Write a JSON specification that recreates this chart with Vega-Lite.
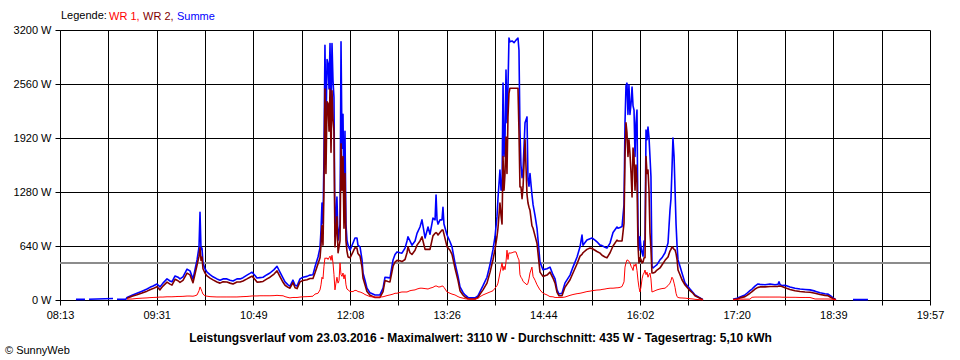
{
  "$schema": "https://vega.github.io/schema/vega-lite/v6.json",
  "width": 870,
  "height": 270,
  "autosize": {"type": "none"},
  "padding": {"left": 60, "right": 30, "top": 30, "bottom": 60},
  "background": "white",
  "title": {"text": "© SunnyWeb", "orient": "bottom", "anchor": "start", "frame": "group", "dx": -55, "offset": 2, "fontSize": 11, "fontWeight": "normal", "font": "Liberation Sans", "color": "black"},
  "config": {
    "font": "Liberation Sans",
    "view": {"stroke": null},
    "axis": {"labelFont": "Liberation Sans", "labelFontSize": 11, "labelColor": "black", "gridColor": "black", "gridOpacity": 1, "gridWidth": 1, "domainColor": "black", "domainWidth": 1, "tickColor": "black", "tickWidth": 1, "tickSize": 5, "labelOverlap": false, "labelFlush": false}
  },
  "data": {"values": [
    {"t":505.9,"summe":8,"wr2":null,"wr1":null},
    {"t":513.2,"summe":8,"wr2":null,"wr1":null},
    {"t":514.0,"summe":null,"wr2":null,"wr1":null},
    {"t":516.5,"summe":8,"wr2":null,"wr1":null},
    {"t":535.9,"summe":18,"wr2":null,"wr1":null},
    {"t":536.7,"summe":null,"wr2":null,"wr1":null},
    {"t":539.1,"summe":8,"wr2":null,"wr1":null},
    {"t":546.4,"summe":10,"wr2":null,"wr1":null},
    {"t":547.2,"summe":30,"wr2":20,"wr1":10},
    {"t":551.3,"summe":55,"wr2":45,"wr1":12},
    {"t":555.3,"summe":80,"wr2":62,"wr1":18},
    {"t":559.4,"summe":105,"wr2":82,"wr1":22},
    {"t":563.4,"summe":130,"wr2":105,"wr1":25},
    {"t":565.8,"summe":150,"wr2":122,"wr1":28},
    {"t":568.3,"summe":165,"wr2":135,"wr1":30},
    {"t":571.5,"summe":190,"wr2":158,"wr1":32},
    {"t":573.9,"summe":155,"wr2":120,"wr1":35},
    {"t":576.3,"summe":200,"wr2":165,"wr1":35},
    {"t":579.6,"summe":250,"wr2":212,"wr1":38},
    {"t":582.0,"summe":225,"wr2":188,"wr1":38},
    {"t":583.6,"summe":215,"wr2":177,"wr1":38},
    {"t":586.1,"summe":285,"wr2":245,"wr1":40},
    {"t":588.5,"summe":270,"wr2":228,"wr1":42},
    {"t":590.1,"summe":250,"wr2":208,"wr1":42},
    {"t":592.5,"summe":275,"wr2":232,"wr1":43},
    {"t":595.8,"summe":365,"wr2":318,"wr1":47},
    {"t":598.2,"summe":345,"wr2":298,"wr1":47},
    {"t":600.6,"summe":250,"wr2":205,"wr1":45},
    {"t":602.2,"summe":355,"wr2":305,"wr1":50},
    {"t":603.9,"summe":475,"wr2":415,"wr1":60},
    {"t":605.5,"summe":630,"wr2":520,"wr1":110},
    {"t":606.3,"summe":1040,"wr2":620,"wr1":155},
    {"t":607.1,"summe":600,"wr2":470,"wr1":130},
    {"t":607.9,"summe":615,"wr2":510,"wr1":100},
    {"t":608.7,"summe":440,"wr2":370,"wr1":70},
    {"t":610.3,"summe":370,"wr2":320,"wr1":50},
    {"t":612.0,"summe":330,"wr2":285,"wr1":45},
    {"t":614.4,"summe":300,"wr2":260,"wr1":40},
    {"t":616.8,"summe":275,"wr2":238,"wr1":38},
    {"t":620.0,"summe":250,"wr2":213,"wr1":36},
    {"t":622.5,"summe":235,"wr2":200,"wr1":36},
    {"t":624.9,"summe":250,"wr2":215,"wr1":36},
    {"t":628.1,"summe":250,"wr2":213,"wr1":36},
    {"t":630.6,"summe":235,"wr2":200,"wr1":36},
    {"t":633.0,"summe":225,"wr2":190,"wr1":36},
    {"t":636.2,"summe":250,"wr2":214,"wr1":36},
    {"t":638.7,"summe":250,"wr2":213,"wr1":38},
    {"t":641.1,"summe":265,"wr2":225,"wr1":40},
    {"t":644.3,"summe":295,"wr2":250,"wr1":42},
    {"t":646.7,"summe":315,"wr2":270,"wr1":45},
    {"t":648.4,"summe":330,"wr2":283,"wr1":48},
    {"t":650.8,"summe":290,"wr2":242,"wr1":48},
    {"t":652.4,"summe":260,"wr2":212,"wr1":48},
    {"t":654.8,"summe":265,"wr2":215,"wr1":50},
    {"t":657.3,"summe":270,"wr2":220,"wr1":50},
    {"t":660.5,"summe":300,"wr2":250,"wr1":50},
    {"t":662.9,"summe":320,"wr2":270,"wr1":50},
    {"t":666.2,"summe":360,"wr2":308,"wr1":52},
    {"t":668.6,"summe":400,"wr2":345,"wr1":55},
    {"t":671.0,"summe":330,"wr2":278,"wr1":52},
    {"t":673.5,"summe":260,"wr2":210,"wr1":50},
    {"t":675.1,"summe":215,"wr2":175,"wr1":40},
    {"t":677.5,"summe":180,"wr2":150,"wr1":30},
    {"t":679.1,"summe":165,"wr2":140,"wr1":25},
    {"t":681.5,"summe":235,"wr2":205,"wr1":30},
    {"t":683.2,"summe":175,"wr2":145,"wr1":30},
    {"t":684.8,"summe":165,"wr2":135,"wr1":30},
    {"t":687.2,"summe":250,"wr2":215,"wr1":35},
    {"t":689.6,"summe":270,"wr2":232,"wr1":38},
    {"t":692.9,"summe":280,"wr2":240,"wr1":40},
    {"t":695.3,"summe":295,"wr2":255,"wr1":42},
    {"t":697.7,"summe":300,"wr2":255,"wr1":45},
    {"t":699.3,"summe":390,"wr2":320,"wr1":70},
    {"t":701.8,"summe":510,"wr2":430,"wr1":80},
    {"t":703.4,"summe":620,"wr2":500,"wr1":120},
    {"t":704.2,"summe":830,"wr2":650,"wr1":180},
    {"t":705.0,"summe":1150,"wr2":880,"wr1":270},
    {"t":705.8,"summe":900,"wr2":650,"wr1":250},
    {"t":706.6,"summe":1700,"wr2":1300,"wr1":400},
    {"t":707.4,"summe":3020,"wr2":2500,"wr1":500},
    {"t":708.2,"summe":2000,"wr2":1500,"wr1":490},
    {"t":709.1,"summe":2850,"wr2":2350,"wr1":500},
    {"t":709.9,"summe":2800,"wr2":2330,"wr1":480},
    {"t":710.7,"summe":2500,"wr2":2000,"wr1":500},
    {"t":711.5,"summe":3040,"wr2":2500,"wr1":520},
    {"t":712.3,"summe":2200,"wr2":1750,"wr1":470},
    {"t":713.1,"summe":3040,"wr2":2480,"wr1":530},
    {"t":713.9,"summe":2600,"wr2":2150,"wr1":440},
    {"t":714.7,"summe":2400,"wr2":2000,"wr1":300},
    {"t":715.5,"summe":750,"wr2":630,"wr1":120},
    {"t":716.3,"summe":1000,"wr2":800,"wr1":200},
    {"t":717.1,"summe":1220,"wr2":985,"wr1":270},
    {"t":718.0,"summe":710,"wr2":560,"wr1":200},
    {"t":718.8,"summe":800,"wr2":630,"wr1":230},
    {"t":719.6,"summe":900,"wr2":700,"wr1":440},
    {"t":720.4,"summe":3060,"wr2":1850,"wr1":300},
    {"t":721.2,"summe":1800,"wr2":1300,"wr1":280},
    {"t":722.0,"summe":2200,"wr2":1700,"wr1":320},
    {"t":722.8,"summe":1100,"wr2":850,"wr1":250},
    {"t":723.6,"summe":2000,"wr2":1500,"wr1":300},
    {"t":724.4,"summe":900,"wr2":700,"wr1":180},
    {"t":725.2,"summe":710,"wr2":580,"wr1":130},
    {"t":726.1,"summe":650,"wr2":510,"wr1":120},
    {"t":727.7,"summe":590,"wr2":500,"wr1":100},
    {"t":730.1,"summe":675,"wr2":570,"wr1":100},
    {"t":731.7,"summe":735,"wr2":620,"wr1":115},
    {"t":733.3,"summe":735,"wr2":615,"wr1":110},
    {"t":734.1,"summe":650,"wr2":550,"wr1":100},
    {"t":735.8,"summe":630,"wr2":520,"wr1":95},
    {"t":737.4,"summe":475,"wr2":390,"wr1":85},
    {"t":738.2,"summe":320,"wr2":260,"wr1":80},
    {"t":739.8,"summe":235,"wr2":180,"wr1":65},
    {"t":741.4,"summe":140,"wr2":100,"wr1":55},
    {"t":743.9,"summe":85,"wr2":55,"wr1":40},
    {"t":747.9,"summe":60,"wr2":30,"wr1":35},
    {"t":751.9,"summe":60,"wr2":30,"wr1":35},
    {"t":754.4,"summe":140,"wr2":100,"wr1":38},
    {"t":756.0,"summe":270,"wr2":230,"wr1":45},
    {"t":758.4,"summe":265,"wr2":220,"wr1":55},
    {"t":760.0,"summe":260,"wr2":215,"wr1":60},
    {"t":762.5,"summe":475,"wr2":400,"wr1":70},
    {"t":764.1,"summe":540,"wr2":450,"wr1":80},
    {"t":765.7,"summe":570,"wr2":470,"wr1":80},
    {"t":768.1,"summe":560,"wr2":465,"wr1":90},
    {"t":769.7,"summe":555,"wr2":455,"wr1":95},
    {"t":772.2,"summe":615,"wr2":480,"wr1":95},
    {"t":773.8,"summe":700,"wr2":560,"wr1":95},
    {"t":774.6,"summe":750,"wr2":630,"wr1":100},
    {"t":776.2,"summe":700,"wr2":560,"wr1":110},
    {"t":777.8,"summe":650,"wr2":540,"wr1":115},
    {"t":780.3,"summe":700,"wr2":590,"wr1":120},
    {"t":781.9,"summe":790,"wr2":650,"wr1":130},
    {"t":784.3,"summe":865,"wr2":700,"wr1":140},
    {"t":785.9,"summe":950,"wr2":750,"wr1":140},
    {"t":788.4,"summe":735,"wr2":600,"wr1":135},
    {"t":790.8,"summe":865,"wr2":600,"wr1":130},
    {"t":792.4,"summe":780,"wr2":600,"wr1":140},
    {"t":794.8,"summe":970,"wr2":760,"wr1":150},
    {"t":796.5,"summe":950,"wr2":790,"wr1":165},
    {"t":797.3,"summe":1245,"wr2":800,"wr1":165},
    {"t":798.1,"summe":950,"wr2":790,"wr1":165},
    {"t":798.9,"summe":900,"wr2":770,"wr1":155},
    {"t":800.5,"summe":950,"wr2":800,"wr1":155},
    {"t":802.1,"summe":950,"wr2":830,"wr1":165},
    {"t":802.9,"summe":1100,"wr2":830,"wr1":165},
    {"t":803.7,"summe":900,"wr2":780,"wr1":150},
    {"t":806.2,"summe":770,"wr2":630,"wr1":95},
    {"t":808.6,"summe":690,"wr2":590,"wr1":80},
    {"t":810.2,"summe":630,"wr2":540,"wr1":70},
    {"t":812.6,"summe":440,"wr2":380,"wr1":60},
    {"t":815.1,"summe":280,"wr2":230,"wr1":40},
    {"t":816.7,"summe":155,"wr2":110,"wr1":30},
    {"t":819.1,"summe":90,"wr2":60,"wr1":22},
    {"t":820.7,"summe":60,"wr2":35,"wr1":15},
    {"t":823.2,"summe":30,"wr2":15,"wr1":10},
    {"t":824.8,"summe":25,"wr2":12,"wr1":10},
    {"t":828.8,"summe":25,"wr2":12,"wr1":10},
    {"t":831.2,"summe":50,"wr2":30,"wr1":20},
    {"t":832.9,"summe":100,"wr2":70,"wr1":40},
    {"t":835.3,"summe":170,"wr2":120,"wr1":60},
    {"t":838.5,"summe":270,"wr2":200,"wr1":80},
    {"t":841.0,"summe":420,"wr2":330,"wr1":95},
    {"t":843.4,"summe":600,"wr2":480,"wr1":110},
    {"t":845.0,"summe":750,"wr2":600,"wr1":140},
    {"t":846.6,"summe":985,"wr2":750,"wr1":170},
    {"t":847.4,"summe":1200,"wr2":850,"wr1":200},
    {"t":849.0,"summe":1540,"wr2":1150,"wr1":320},
    {"t":849.9,"summe":1300,"wr2":1000,"wr1":380},
    {"t":850.7,"summe":1340,"wr2":900,"wr1":440},
    {"t":851.5,"summe":2570,"wr2":1700,"wr1":350},
    {"t":852.3,"summe":1700,"wr2":1300,"wr1":400},
    {"t":853.1,"summe":1900,"wr2":1500,"wr1":360},
    {"t":853.9,"summe":2725,"wr2":1930,"wr1":450},
    {"t":854.7,"summe":2100,"wr2":1500,"wr1":590},
    {"t":855.5,"summe":2500,"wr2":2170,"wr1":480},
    {"t":856.3,"summe":3105,"wr2":2450,"wr1":560},
    {"t":857.1,"summe":3060,"wr2":2510,"wr1":555},
    {"t":858.8,"summe":3070,"wr2":2510,"wr1":560},
    {"t":860.4,"summe":3050,"wr2":2510,"wr1":570},
    {"t":862.0,"summe":3080,"wr2":2510,"wr1":570},
    {"t":863.6,"summe":3105,"wr2":2510,"wr1":500},
    {"t":864.4,"summe":2960,"wr2":2000,"wr1":475},
    {"t":865.2,"summe":2015,"wr2":1340,"wr1":300},
    {"t":866.0,"summe":1600,"wr2":1340,"wr1":270},
    {"t":866.9,"summe":1450,"wr2":1200,"wr1":250},
    {"t":867.7,"summe":1550,"wr2":1340,"wr1":220},
    {"t":869.3,"summe":2100,"wr2":1900,"wr1":200},
    {"t":870.9,"summe":2170,"wr2":1250,"wr1":180},
    {"t":871.7,"summe":1420,"wr2":1150,"wr1":200},
    {"t":872.5,"summe":1350,"wr2":1100,"wr1":250},
    {"t":873.3,"summe":1500,"wr2":1065,"wr1":320},
    {"t":874.9,"summe":1250,"wr2":880,"wr1":390},
    {"t":875.8,"summe":1130,"wr2":850,"wr1":280},
    {"t":877.4,"summe":1000,"wr2":760,"wr1":235},
    {"t":879.0,"summe":850,"wr2":670,"wr1":180},
    {"t":881.4,"summe":450,"wr2":330,"wr1":120},
    {"t":883.8,"summe":360,"wr2":280,"wr1":80},
    {"t":887.1,"summe":370,"wr2":295,"wr1":60},
    {"t":889.5,"summe":390,"wr2":330,"wr1":40},
    {"t":891.9,"summe":300,"wr2":260,"wr1":38},
    {"t":893.6,"summe":250,"wr2":200,"wr1":30},
    {"t":895.2,"summe":120,"wr2":90,"wr1":30},
    {"t":896.8,"summe":70,"wr2":50,"wr1":30},
    {"t":899.2,"summe":80,"wr2":50,"wr1":30},
    {"t":901.6,"summe":200,"wr2":150,"wr1":35},
    {"t":905.7,"summe":295,"wr2":240,"wr1":55},
    {"t":908.1,"summe":390,"wr2":320,"wr1":65},
    {"t":911.4,"summe":510,"wr2":430,"wr1":75},
    {"t":913.8,"summe":630,"wr2":520,"wr1":80},
    {"t":915.4,"summe":770,"wr2":540,"wr1":85},
    {"t":916.2,"summe":650,"wr2":560,"wr1":88},
    {"t":919.4,"summe":710,"wr2":600,"wr1":100},
    {"t":921.9,"summe":725,"wr2":615,"wr1":105},
    {"t":923.5,"summe":735,"wr2":610,"wr1":110},
    {"t":925.9,"summe":710,"wr2":590,"wr1":115},
    {"t":927.5,"summe":690,"wr2":575,"wr1":118},
    {"t":930.0,"summe":650,"wr2":555,"wr1":120},
    {"t":931.6,"summe":645,"wr2":530,"wr1":125},
    {"t":934.0,"summe":625,"wr2":510,"wr1":130},
    {"t":935.6,"summe":615,"wr2":500,"wr1":135},
    {"t":938.1,"summe":675,"wr2":560,"wr1":140},
    {"t":940.5,"summe":800,"wr2":640,"wr1":140},
    {"t":943.7,"summe":865,"wr2":710,"wr1":145},
    {"t":944.5,"summe":850,"wr2":700,"wr1":145},
    {"t":946.2,"summe":860,"wr2":700,"wr1":150},
    {"t":947.8,"summe":870,"wr2":700,"wr1":160},
    {"t":949.4,"summe":1130,"wr2":910,"wr1":215},
    {"t":950.2,"summe":2100,"wr2":1700,"wr1":390},
    {"t":951.0,"summe":2540,"wr2":2100,"wr1":440},
    {"t":951.8,"summe":2570,"wr2":1980,"wr1":475},
    {"t":952.6,"summe":2200,"wr2":1700,"wr1":470},
    {"t":953.4,"summe":2550,"wr2":1900,"wr1":460},
    {"t":954.2,"summe":2200,"wr2":1740,"wr1":440},
    {"t":955.1,"summe":2330,"wr2":1500,"wr1":400},
    {"t":955.9,"summe":2525,"wr2":1220,"wr1":380},
    {"t":956.7,"summe":2300,"wr2":1800,"wr1":350},
    {"t":957.5,"summe":2250,"wr2":1700,"wr1":420},
    {"t":958.3,"summe":1700,"wr2":1300,"wr1":400},
    {"t":959.1,"summe":2100,"wr2":1600,"wr1":430},
    {"t":959.9,"summe":2250,"wr2":1400,"wr1":350},
    {"t":960.7,"summe":880,"wr2":650,"wr1":235},
    {"t":961.5,"summe":590,"wr2":440,"wr1":150},
    {"t":962.3,"summe":750,"wr2":500,"wr1":95},
    {"t":963.1,"summe":630,"wr2":480,"wr1":150},
    {"t":964.0,"summe":560,"wr2":440,"wr1":250},
    {"t":964.8,"summe":520,"wr2":450,"wr1":300},
    {"t":965.6,"summe":700,"wr2":500,"wr1":320},
    {"t":966.4,"summe":650,"wr2":500,"wr1":355},
    {"t":967.2,"summe":2015,"wr2":1700,"wr1":300},
    {"t":968.0,"summe":1900,"wr2":1500,"wr1":330},
    {"t":968.8,"summe":2050,"wr2":1540,"wr1":270},
    {"t":969.6,"summe":1930,"wr2":1300,"wr1":300},
    {"t":970.4,"summe":1700,"wr2":800,"wr1":320},
    {"t":971.2,"summe":1460,"wr2":600,"wr1":250},
    {"t":972.0,"summe":400,"wr2":320,"wr1":95},
    {"t":972.9,"summe":380,"wr2":320,"wr1":100},
    {"t":974.5,"summe":400,"wr2":330,"wr1":110},
    {"t":976.1,"summe":420,"wr2":355,"wr1":120},
    {"t":978.5,"summe":475,"wr2":380,"wr1":130},
    {"t":980.1,"summe":500,"wr2":415,"wr1":135},
    {"t":982.6,"summe":560,"wr2":470,"wr1":140},
    {"t":985.0,"summe":675,"wr2":510,"wr1":170},
    {"t":986.6,"summe":1065,"wr2":580,"wr1":200},
    {"t":987.4,"summe":1200,"wr2":600,"wr1":230},
    {"t":988.2,"summe":1540,"wr2":630,"wr1":270},
    {"t":989.0,"summe":1920,"wr2":620,"wr1":250},
    {"t":989.9,"summe":1700,"wr2":600,"wr1":200},
    {"t":990.7,"summe":1300,"wr2":593,"wr1":150},
    {"t":991.5,"summe":900,"wr2":550,"wr1":80},
    {"t":992.3,"summe":650,"wr2":480,"wr1":40},
    {"t":993.1,"summe":475,"wr2":356,"wr1":30},
    {"t":994.7,"summe":400,"wr2":300,"wr1":25},
    {"t":996.3,"summe":320,"wr2":240,"wr1":24},
    {"t":998.8,"summe":200,"wr2":178,"wr1":22},
    {"t":1002.8,"summe":130,"wr2":110,"wr1":15},
    {"t":1005.2,"summe":90,"wr2":80,"wr1":12},
    {"t":1006.8,"summe":60,"wr2":50,"wr1":8},
    {"t":1010.9,"summe":25,"wr2":20,"wr1":4},
    {"t":1013.3,"summe":5,"wr2":3,"wr1":2},
    {"t":1014.1,"summe":null,"wr2":null,"wr1":null},
    {"t":1037.6,"summe":8,"wr2":5,"wr1":2},
    {"t":1040.8,"summe":20,"wr2":12,"wr1":8},
    {"t":1043.3,"summe":35,"wr2":25,"wr1":10},
    {"t":1047.3,"summe":60,"wr2":40,"wr1":10},
    {"t":1048.9,"summe":80,"wr2":55,"wr1":10},
    {"t":1051.3,"summe":110,"wr2":80,"wr1":10},
    {"t":1053.0,"summe":130,"wr2":100,"wr1":32},
    {"t":1055.4,"summe":165,"wr2":130,"wr1":35},
    {"t":1057.8,"summe":190,"wr2":150,"wr1":35},
    {"t":1059.4,"summe":185,"wr2":155,"wr1":35},
    {"t":1063.5,"summe":180,"wr2":155,"wr1":35},
    {"t":1067.5,"summe":190,"wr2":160,"wr1":35},
    {"t":1071.6,"summe":180,"wr2":160,"wr1":35},
    {"t":1074.0,"summe":185,"wr2":162,"wr1":35},
    {"t":1074.8,"summe":215,"wr2":165,"wr1":35},
    {"t":1075.6,"summe":185,"wr2":165,"wr1":35},
    {"t":1077.2,"summe":170,"wr2":160,"wr1":33},
    {"t":1079.7,"summe":175,"wr2":145,"wr1":33},
    {"t":1083.7,"summe":155,"wr2":125,"wr1":32},
    {"t":1087.8,"summe":140,"wr2":110,"wr1":32},
    {"t":1091.8,"summe":130,"wr2":100,"wr1":30},
    {"t":1095.9,"summe":125,"wr2":95,"wr1":30},
    {"t":1099.9,"summe":120,"wr2":92,"wr1":30},
    {"t":1104.0,"summe":105,"wr2":80,"wr1":12},
    {"t":1108.0,"summe":85,"wr2":65,"wr1":12},
    {"t":1112.0,"summe":75,"wr2":55,"wr1":12},
    {"t":1114.5,"summe":70,"wr2":50,"wr1":12},
    {"t":1116.9,"summe":45,"wr2":30,"wr1":10},
    {"t":1118.5,"summe":25,"wr2":18,"wr1":8},
    {"t":1120.9,"summe":5,"wr2":3,"wr1":2},
    {"t":1121.7,"summe":null,"wr2":null,"wr1":null},
    {"t":1134.7,"summe":5,"wr2":null,"wr1":null},
    {"t":1146.8,"summe":5,"wr2":null,"wr1":null},
    {"t":1147.6,"summe":null,"wr2":null,"wr1":null}
  ]},
  "layer": [
    {
      "mark": {"type": "rule", "color": "#8c8c8c", "strokeWidth": 1},
      "encoding": {"y": {"datum": 435, "type": "quantitative", "scale": {"domain": [0, 3200], "nice": false}}}
    },
    {
      "mark": {"type": "line", "strokeWidth": 1.6, "strokeJoin": "round", "invalid": "break-paths-show-domains"},
      "encoding": {
        "x": {"field": "t", "type": "quantitative", "scale": {"domain": [493, 1197], "nice": false, "zero": false},
          "axis": {"title": "Leistungsverlauf vom 23.03.2016 - Maximalwert: 3110 W - Durchschnitt: 435 W - Tagesertrag: 5,10 kWh",
            "titleFont": "Liberation Sans", "titleFontSize": 12, "titleFontWeight": "bold", "titleColor": "black",
            "titleX": 420, "titleY": 37, "titleBaseline": "middle", "titleAlign": "center", "titleAnchor": null,
            "values": [493, 532.111, 571.222, 610.333, 649.444, 688.556, 727.667, 766.778, 805.889, 845, 884.111, 923.222, 962.333, 1001.444, 1040.556, 1079.667, 1118.778, 1157.889, 1197],
            "labelExpr": "round((datum.value - 493) * 18 / 704) % 2 == 0 ? ((floor((datum.value + 0.4) / 60) < 10 ? '0' : '') + floor((datum.value + 0.4) / 60) + ':' + (floor(datum.value + 0.4) % 60 < 10 ? '0' : '') + floor(datum.value + 0.4) % 60) : ''",
            "labelPadding": 4, "grid": true}},
        "y": {"field": "summe", "type": "quantitative", "scale": {"domain": [0, 3200], "nice": false},
          "axis": {"title": null, "values": [0, 640, 1280, 1920, 2560, 3200], "labelExpr": "datum.value + ' W'", "labelPadding": 4, "grid": true}},
        "color": {"datum": "Summe", "type": "nominal",
          "scale": {"domain": ["WR 1", "WR 2", "Summe"], "range": ["#ff0000", "#800000", "#0000ff"]},
          "legend": {"orient": "none", "legendX": 1, "legendY": -19, "direction": "horizontal",
            "title": "Legende:", "titleOrient": "left", "titleFont": "Liberation Sans", "titleFontSize": 11, "titleFontWeight": "normal", "titleColor": "black", "titlePadding": 3,
            "labelFont": "Liberation Sans", "labelFontSize": 11, "labelOffset": -12, "columnPadding": 3, "padding": 0,
            "labelExpr": "datum.label == 'Summe' ? datum.label : datum.label + ','",
            "symbolSize": 0, "symbolStrokeWidth": 0, "symbolOpacity": 0,
            "encode": {"labels": {"update": {"fill": {"scale": "color", "field": "value"}}}}}}
      }
    },
    {
      "mark": {"type": "line", "strokeWidth": 1.6, "strokeJoin": "round", "invalid": "break-paths-show-domains"},
      "encoding": {
        "x": {"field": "t", "type": "quantitative"},
        "y": {"field": "wr2", "type": "quantitative", "scale": {"domain": [0, 3200], "nice": false}},
        "color": {"datum": "WR 2", "type": "nominal"}
      }
    },
    {
      "mark": {"type": "line", "strokeWidth": 1, "strokeJoin": "round", "invalid": "break-paths-show-domains"},
      "encoding": {
        "x": {"field": "t", "type": "quantitative"},
        "y": {"field": "wr1", "type": "quantitative", "scale": {"domain": [0, 3200], "nice": false}},
        "color": {"datum": "WR 1", "type": "nominal"}
      }
    }
  ]
}
